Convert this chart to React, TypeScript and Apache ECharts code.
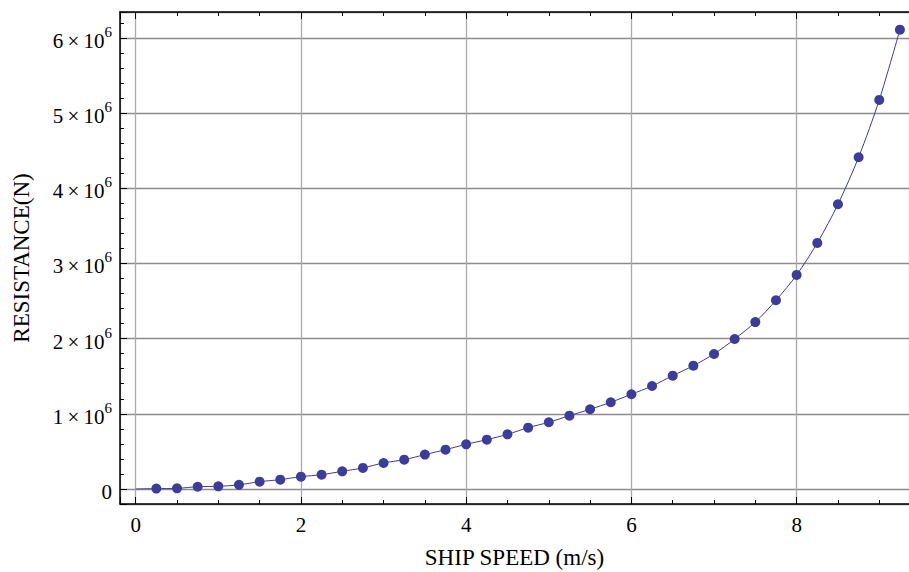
import React, { useEffect, useRef } from "react";
import * as echarts from "echarts";

const speeds = [
  0.25, 0.5, 0.75, 1.0, 1.25, 1.5, 1.75, 2.0, 2.25, 2.5, 2.75, 3.0, 3.25, 3.5,
  3.75, 4.0, 4.25, 4.5, 4.75, 5.0, 5.25, 5.5, 5.75, 6.0, 6.25, 6.5, 6.75, 7.0,
  7.25, 7.5, 7.75, 8.0, 8.25, 8.5, 8.75, 9.0, 9.25,
];
const resistance = [
  5000, 8000, 30000, 35000, 55000, 97000, 124000, 164000, 190000, 235000,
  280000, 346000, 390000, 457000, 523000, 594000, 656000, 727000, 816000,
  887000, 975000, 1060000, 1153000, 1260000, 1370000, 1507000, 1640000,
  1796000, 1995000, 2220000, 2510000, 2847000, 3273000, 3787000, 4413000,
  5175000, 6110000,
];
const curveStart = [0, 0];

const xTitle = "SHIP SPEED (m/s)";
const yTitle = "RESISTANCE(N)";

const FONT = "Liberation Serif";
const COLOR = "#3d3d99";

export default function App() {
  const ref = useRef<HTMLDivElement>(null);
  useEffect(() => {
    if (!ref.current) return;
    const chart = echarts.init(ref.current, null, { renderer: "svg" });
    const points = speeds.map((s, i) => [s, resistance[i]]);
    const curve = [curveStart, ...points];
    const xMin = -0.19;
    const xMax = 9.36;
    const yMin = -200000;
    const yMax = 6345000;
    chart.setOption({
      animation: false,
      backgroundColor: "#ffffff",
      grid: {
        left: 120,
        right: 0,
        top: 12,
        bottom: 68,
        containLabel: false,
        outerBoundsMode: "none",
      },
      xAxis: [
        {
          type: "value",
          min: xMin,
          max: xMax,
          position: "bottom",
          name: xTitle,
          nameLocation: "middle",
          nameGap: 42,
          nameTextStyle: { fontFamily: FONT, fontSize: 23, color: "#000" },
          axisLine: { show: true, onZero: false, lineStyle: { color: "#000", width: 1.5 } },
          axisTick: { show: true, inside: true, length: 7, lineStyle: { color: "#000", width: 1 } },
          minorTick: { show: true, splitNumber: 4, length: 4, lineStyle: { color: "#000", width: 1 } },
          axisLabel: {
            fontFamily: FONT,
            fontSize: 21,
            color: "#000",
            margin: 10,
            showMinLabel: false,
            showMaxLabel: false,
          },
          splitLine: { show: true, lineStyle: { color: "#aaaaaa", width: 1.3 } },
          minorSplitLine: { show: false },
        },
        {
          type: "value",
          min: xMin,
          max: xMax,
          position: "top",
          axisLine: { show: true, onZero: false, lineStyle: { color: "#000", width: 1.5 } },
          axisTick: { show: true, inside: true, length: 7, lineStyle: { color: "#000", width: 1 } },
          minorTick: { show: true, splitNumber: 4, length: 4, lineStyle: { color: "#000", width: 1 } },
          axisLabel: { show: false },
          splitLine: { show: false },
        },
      ],
      yAxis: [
        {
          type: "value",
          min: yMin,
          max: yMax,
          position: "left",
          name: yTitle,
          nameLocation: "middle",
          nameGap: 87,
          nameRotate: 90,
          nameTextStyle: { fontFamily: FONT, fontSize: 23, color: "#000" },
          axisLine: { show: true, onZero: false, lineStyle: { color: "#000", width: 1.5 } },
          axisTick: { show: true, inside: true, length: 7, lineStyle: { color: "#000", width: 1 } },
          minorTick: { show: true, splitNumber: 5, length: 4, lineStyle: { color: "#000", width: 1 } },
          axisLabel: {
            margin: 8,
            showMinLabel: false,
            showMaxLabel: false,
            fontFamily: FONT,
            fontSize: 21,
            color: "#000",
            formatter: (v: number) => {
              if (v === 0) return "{b|0}";
              const m = Math.round(v / 1e6);
              return `{b|${m}\u2009\u00d7\u200910}{s|6}`;
            },
            rich: {
              b: { fontFamily: FONT, fontSize: 21, color: "#000", lineHeight: 27, verticalAlign: "bottom" },
              s: { fontFamily: FONT, fontSize: 15, color: "#000", lineHeight: 15, verticalAlign: "top" },
            },
          },
          splitLine: { show: true, lineStyle: { color: "#8c8c8c", width: 1.3 } },
          minorSplitLine: { show: false },
        },
      ],
      series: [
        {
          type: "line",
          data: curve,
          smooth: 0.3,
          showSymbol: false,
          symbol: "none",
          lineStyle: { color: COLOR, width: 1 },
          z: 2,
        },
        {
          type: "scatter",
          data: points,
          symbol: "circle",
          symbolSize: 10,
          itemStyle: { color: COLOR, opacity: 1 },
          z: 3,
        },
      ],
    });
    return () => chart.dispose();
  }, []);
  return (
    <div
      ref={ref}
      style={{ position: "fixed", left: 0, top: 0, width: 909, height: 572, background: "#fff" }}
    />
  );
}
